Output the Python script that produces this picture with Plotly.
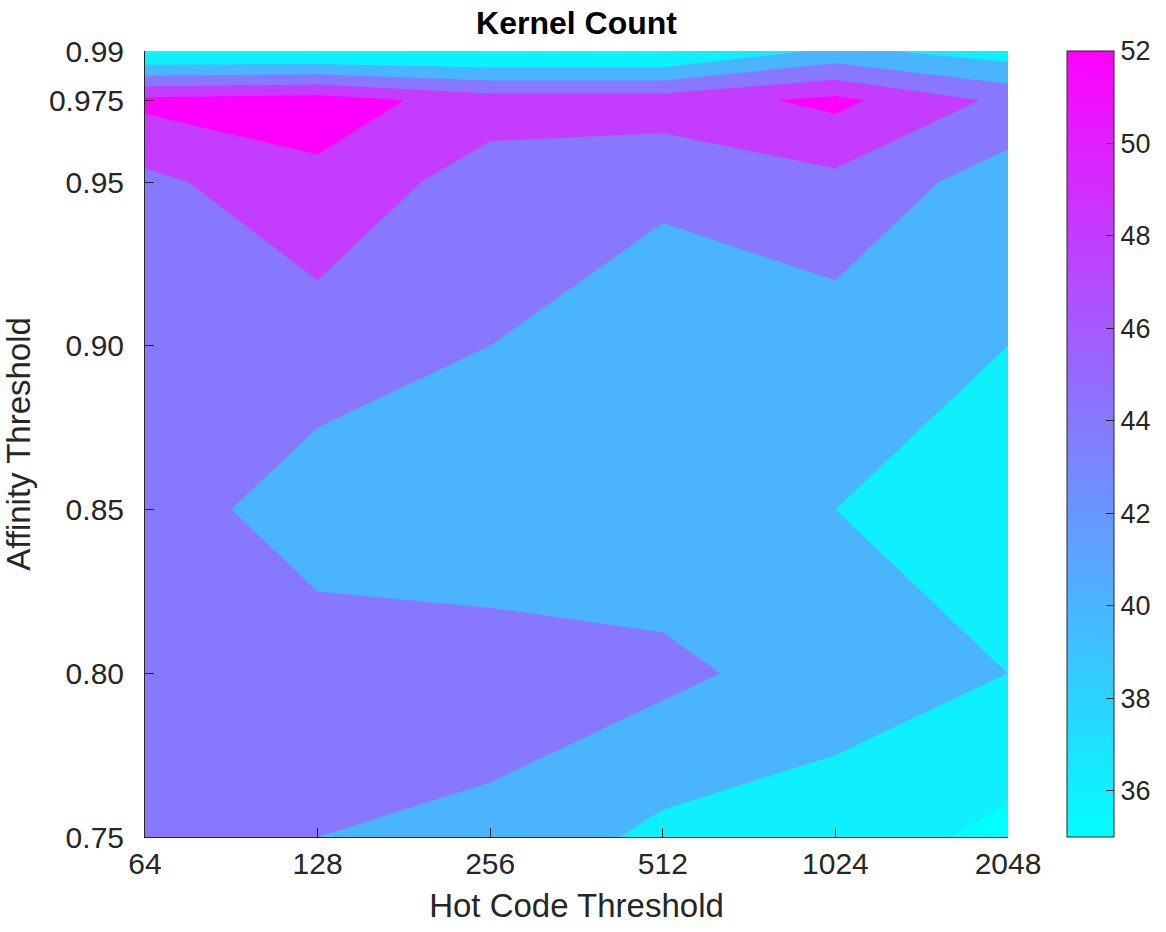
import numpy as np
import plotly.graph_objects as go

# ---- data ----
hot_code = [64, 128, 256, 512, 1024, 2048]
affinity = [0.75, 0.80, 0.85, 0.90, 0.95, 0.975, 0.99]
affinity_labels = ["0.75", "0.80", "0.85", "0.90", "0.95", "0.975", "0.99"]
# kernel count, rows = affinity threshold, columns = hot code threshold
kc_075 = [46, 44, 43, 39, 38, 35]
kc_080 = [46, 46, 46, 45, 42, 40]
kc_085 = [46, 42, 41, 41, 40, 38]
kc_090 = [46, 46, 44, 41, 42, 40]
kc_095 = [47, 51, 46, 45, 47, 42]
kc_0975 = [53, 54, 50, 50, 53, 47]
kc_099 = [35, 35, 35, 35, 41, 38]
levels = [36, 40, 44, 48, 52]
cbar_ticks = [36, 38, 40, 42, 44, 46, 48, 50, 52]
cmin, cmax = 35, 52

Z = [kc_075, kc_080, kc_085, kc_090, kc_095, kc_0975, kc_099]
xpos = np.log2(hot_code)


def cool(v):
    r = (v - cmin) / (cmax - cmin)
    return "rgb(%d,%d,255)" % (round(255 * r), round(255 * (1 - r)))


# band colours: below first level, then each band's lower level
band_vals = [cmin] + levels
step_cs = []
nb = len(band_vals)
for i, v in enumerate(band_vals):
    lo = max(0.0, (i - 0.5) / (nb - 1))
    hi = min(1.0, (i + 0.5) / (nb - 1))
    step_cs.append([lo, cool(v)])
    step_cs.append([hi, cool(v)])

FONT = "Liberation Sans, Arial, Helvetica, sans-serif"
AX = "#262626"

fig = go.Figure()
fig.add_trace(go.Contour(
    x=xpos, y=affinity, z=Z,
    contours=dict(start=levels[0], end=levels[-1], size=levels[1] - levels[0],
                  coloring="fill", showlines=False),
    line=dict(width=0, smoothing=0),
    colorscale=step_cs, showscale=False, hoverinfo="skip",
))
# helper trace carrying the continuous colorbar
fig.add_trace(go.Scatter(
    x=[xpos[0]], y=[affinity[0]], mode="markers", hoverinfo="skip", showlegend=False,
    marker=dict(size=1, opacity=0, color=[cmin], cmin=cmin, cmax=cmax,
                colorscale=[[0, cool(cmin)], [1, cool(cmax)]], showscale=True,
                colorbar=dict(x=1.0684, xanchor="left", xref="paper", xpad=0, ypad=0,
                              y=0.5, yanchor="middle", len=1, lenmode="fraction",
                              thickness=47, thicknessmode="pixels",
                              outlinewidth=1, outlinecolor=AX,
                              tickvals=cbar_ticks, ticks="inside", ticklen=8,
                              tickcolor=AX, tickwidth=1,
                              tickfont=dict(family=FONT, size=27, color=AX))),
))

fig.update_layout(
    width=1166, height=932,
    margin=dict(l=145, r=158, t=51, b=95, autoexpand=False),
    paper_bgcolor="white", plot_bgcolor="white",
    font=dict(family=FONT, color=AX),
    showlegend=False,
    title=dict(text="<b>Kernel Count</b>", x=(145 + 1008) / 2 / 1166, xanchor="center",
               xref="container", yref="container", y=1 - 23 / 932, yanchor="middle",
               font=dict(family=FONT, size=32, color="black")),
    xaxis=dict(range=[xpos[0], xpos[-1]], tickvals=list(xpos), ticktext=[str(h) for h in hot_code],
               ticks="inside", ticklen=9, tickwidth=1, tickcolor=AX,
               showline=True, linecolor=AX, linewidth=1, mirror=False,
               showgrid=False, zeroline=False,
               tickfont=dict(family=FONT, size=30, color=AX),
               title=dict(text="Hot Code Threshold", standoff=14,
                          font=dict(family=FONT, size=33, color=AX))),
    yaxis=dict(range=[affinity[0], affinity[-1]], tickvals=affinity, ticktext=affinity_labels,
               ticks="inside", ticklen=9, tickwidth=1, tickcolor=AX,
               showline=True, linecolor=AX, linewidth=1, mirror=False,
               showgrid=False, zeroline=False, ticklabelstandoff=14,
               tickfont=dict(family=FONT, size=30, color=AX),
               title=dict(text="Affinity Threshold", standoff=12,
                          font=dict(family=FONT, size=33, color=AX))),
)

fig.write_html("out.html")
